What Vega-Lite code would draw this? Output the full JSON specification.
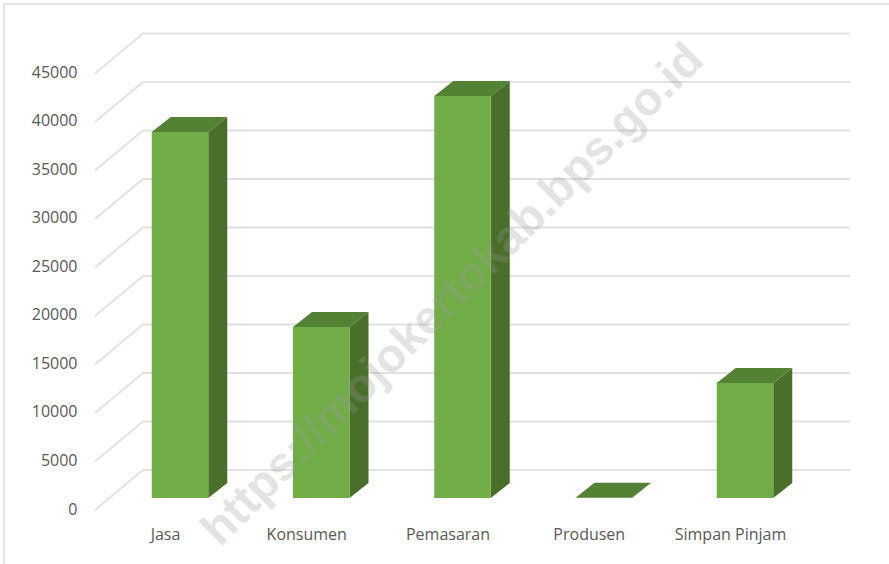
{"$schema":"https://vega.github.io/schema/vega-lite/v6.json","width":809,"height":520,"autosize":{"type":"none"},"padding":{"left":80,"top":0,"right":0,"bottom":44},"background":"white","view":{"stroke":null},
"datasets":{
"grid":[
{"t":0,"x":-0.602,"y":-1237},{"t":0,"x":-0.262,"y":2887},{"t":0,"x":4.743,"y":2887},
{"t":5000,"x":-0.602,"y":3763},{"t":5000,"x":-0.262,"y":7887},{"t":5000,"x":4.743,"y":7887},
{"t":10000,"x":-0.602,"y":8763},{"t":10000,"x":-0.262,"y":12887},{"t":10000,"x":4.743,"y":12887},
{"t":15000,"x":-0.602,"y":13763},{"t":15000,"x":-0.262,"y":17887},{"t":15000,"x":4.743,"y":17887},
{"t":20000,"x":-0.602,"y":18763},{"t":20000,"x":-0.262,"y":22887},{"t":20000,"x":4.743,"y":22887},
{"t":25000,"x":-0.602,"y":23763},{"t":25000,"x":-0.262,"y":27887},{"t":25000,"x":4.743,"y":27887},
{"t":30000,"x":-0.602,"y":28763},{"t":30000,"x":-0.262,"y":32887},{"t":30000,"x":4.743,"y":32887},
{"t":35000,"x":-0.602,"y":33763},{"t":35000,"x":-0.262,"y":37887},{"t":35000,"x":4.743,"y":37887},
{"t":40000,"x":-0.602,"y":38763},{"t":40000,"x":-0.262,"y":42887},{"t":40000,"x":4.743,"y":42887},
{"t":45000,"x":-0.602,"y":43763},{"t":45000,"x":-0.262,"y":47887},{"t":45000,"x":4.743,"y":47887}],
"bars":[
{"kategori":"Jasa","x0":-0.2,"x1":0.2,"nilai":37732},
{"kategori":"Konsumen","x0":0.8,"x1":1.2,"nilai":17629},
{"kategori":"Pemasaran","x0":1.8,"x1":2.2,"nilai":41443},
{"kategori":"Produsen","x0":2.8,"x1":3.2,"nilai":30},
{"kategori":"Simpan Pinjam","x0":3.8,"x1":4.2,"nilai":11856}],
"side":[
{"kategori":"Jasa","x":0.2,"b":0,"a":37732},{"kategori":"Jasa","x":0.3345,"b":1546,"a":39278},
{"kategori":"Konsumen","x":1.2,"b":0,"a":17629},{"kategori":"Konsumen","x":1.3345,"b":1546,"a":19175},
{"kategori":"Pemasaran","x":2.2,"b":0,"a":41443},{"kategori":"Pemasaran","x":2.3345,"b":1546,"a":42989},
{"kategori":"Produsen","x":3.2,"b":0,"a":30},{"kategori":"Produsen","x":3.3345,"b":1546,"a":1576},
{"kategori":"Simpan Pinjam","x":4.2,"b":0,"a":11856},{"kategori":"Simpan Pinjam","x":4.3345,"b":1546,"a":13402}],
"top":[
{"kategori":"Jasa","x":-0.2,"b":37732,"a":37732},{"kategori":"Jasa","x":-0.0655,"b":37732,"a":39278},{"kategori":"Jasa","x":0.2,"b":37732,"a":39278},{"kategori":"Jasa","x":0.3345,"b":39278,"a":39278},
{"kategori":"Konsumen","x":0.8,"b":17629,"a":17629},{"kategori":"Konsumen","x":0.9345,"b":17629,"a":19175},{"kategori":"Konsumen","x":1.2,"b":17629,"a":19175},{"kategori":"Konsumen","x":1.3345,"b":19175,"a":19175},
{"kategori":"Pemasaran","x":1.8,"b":41443,"a":41443},{"kategori":"Pemasaran","x":1.9345,"b":41443,"a":42989},{"kategori":"Pemasaran","x":2.2,"b":41443,"a":42989},{"kategori":"Pemasaran","x":2.3345,"b":42989,"a":42989},
{"kategori":"Produsen","x":2.8,"b":30,"a":30},{"kategori":"Produsen","x":2.9345,"b":30,"a":1576},{"kategori":"Produsen","x":3.2,"b":30,"a":1576},{"kategori":"Produsen","x":3.3345,"b":1576,"a":1576},
{"kategori":"Simpan Pinjam","x":3.8,"b":11856,"a":11856},{"kategori":"Simpan Pinjam","x":3.9345,"b":11856,"a":13402},{"kategori":"Simpan Pinjam","x":4.2,"b":11856,"a":13402},{"kategori":"Simpan Pinjam","x":4.3345,"b":13402,"a":13402}],
"frame":[{"f":"a","x":-1.246,"y":-6804},{"f":"a","x":-1.246,"y":50926},{"f":"a","x":5.02,"y":50926}],
"mark":[{"teks":"https://mojokertokab.bps.go.id","x":1.933,"y":20927}]
},
"layer":[
{"data":{"name":"frame"},"mark":{"type":"line","stroke":"#dcdcdc","strokeWidth":1.5,"clip":false},
"encoding":{"x":{"field":"x","type":"quantitative","sort":null,"scale":{"domain":[-0.708,5.0195],"nice":false,"zero":false},"axis":{"title":null,"values":[0,1,2,3,4],"labelExpr":"['Jasa','Konsumen','Pemasaran','Produsen','Simpan Pinjam'][datum.value]","labelOffset":-15,"labelPadding":6,"labelFont":"Open Sans","labelFontSize":16,"labelColor":"#595959","ticks":false,"domain":false,"grid":false,"labelOverlap":false,"labelFlush":false}},
"y":{"field":"y","type":"quantitative","sort":null,"scale":{"domain":[-2268,51340],"nice":false,"zero":false},"axis":{"title":null,"values":[0,5000,10000,15000,20000,25000,30000,35000,40000,45000],"format":"d","labelOffset":11,"labelPadding":3,"labelFont":"Open Sans","labelFontSize":16,"labelColor":"#595959","ticks":false,"domain":false,"grid":false,"labelOverlap":false,"labelFlush":false}},"detail":{"field":"f"}}},
{"data":{"name":"grid"},"mark":{"type":"line","stroke":"#e2e2e2","strokeWidth":2},
"encoding":{"x":{"field":"x","type":"quantitative","sort":null},"y":{"field":"y","type":"quantitative","sort":null},"detail":{"field":"t"}}},
{"data":{"name":"side"},"mark":{"type":"area","orient":"vertical","fill":"#4a6f2a"},
"encoding":{"x":{"field":"x","type":"quantitative"},"y":{"field":"b","type":"quantitative"},"y2":{"field":"a"},"detail":{"field":"kategori"}}},
{"data":{"name":"top"},"mark":{"type":"area","orient":"vertical","fill":"#548235"},
"encoding":{"x":{"field":"x","type":"quantitative"},"y":{"field":"b","type":"quantitative"},"y2":{"field":"a"},"detail":{"field":"kategori"}}},
{"data":{"name":"bars"},"mark":{"type":"rect","fill":"#70ad47"},
"encoding":{"x":{"field":"x0","type":"quantitative"},"x2":{"field":"x1"},"y":{"field":"nilai","type":"quantitative"},"y2":{"datum":0}}},
{"data":{"name":"mark"},"mark":{"type":"text","angle":315,"font":"Liberation Sans","fontWeight":"bold","fontSize":47,"fill":"#9a9a9a","opacity":0.27,"align":"center","baseline":"middle"},
"encoding":{"x":{"field":"x","type":"quantitative"},"y":{"field":"y","type":"quantitative"},"text":{"field":"teks"}}}
]}
